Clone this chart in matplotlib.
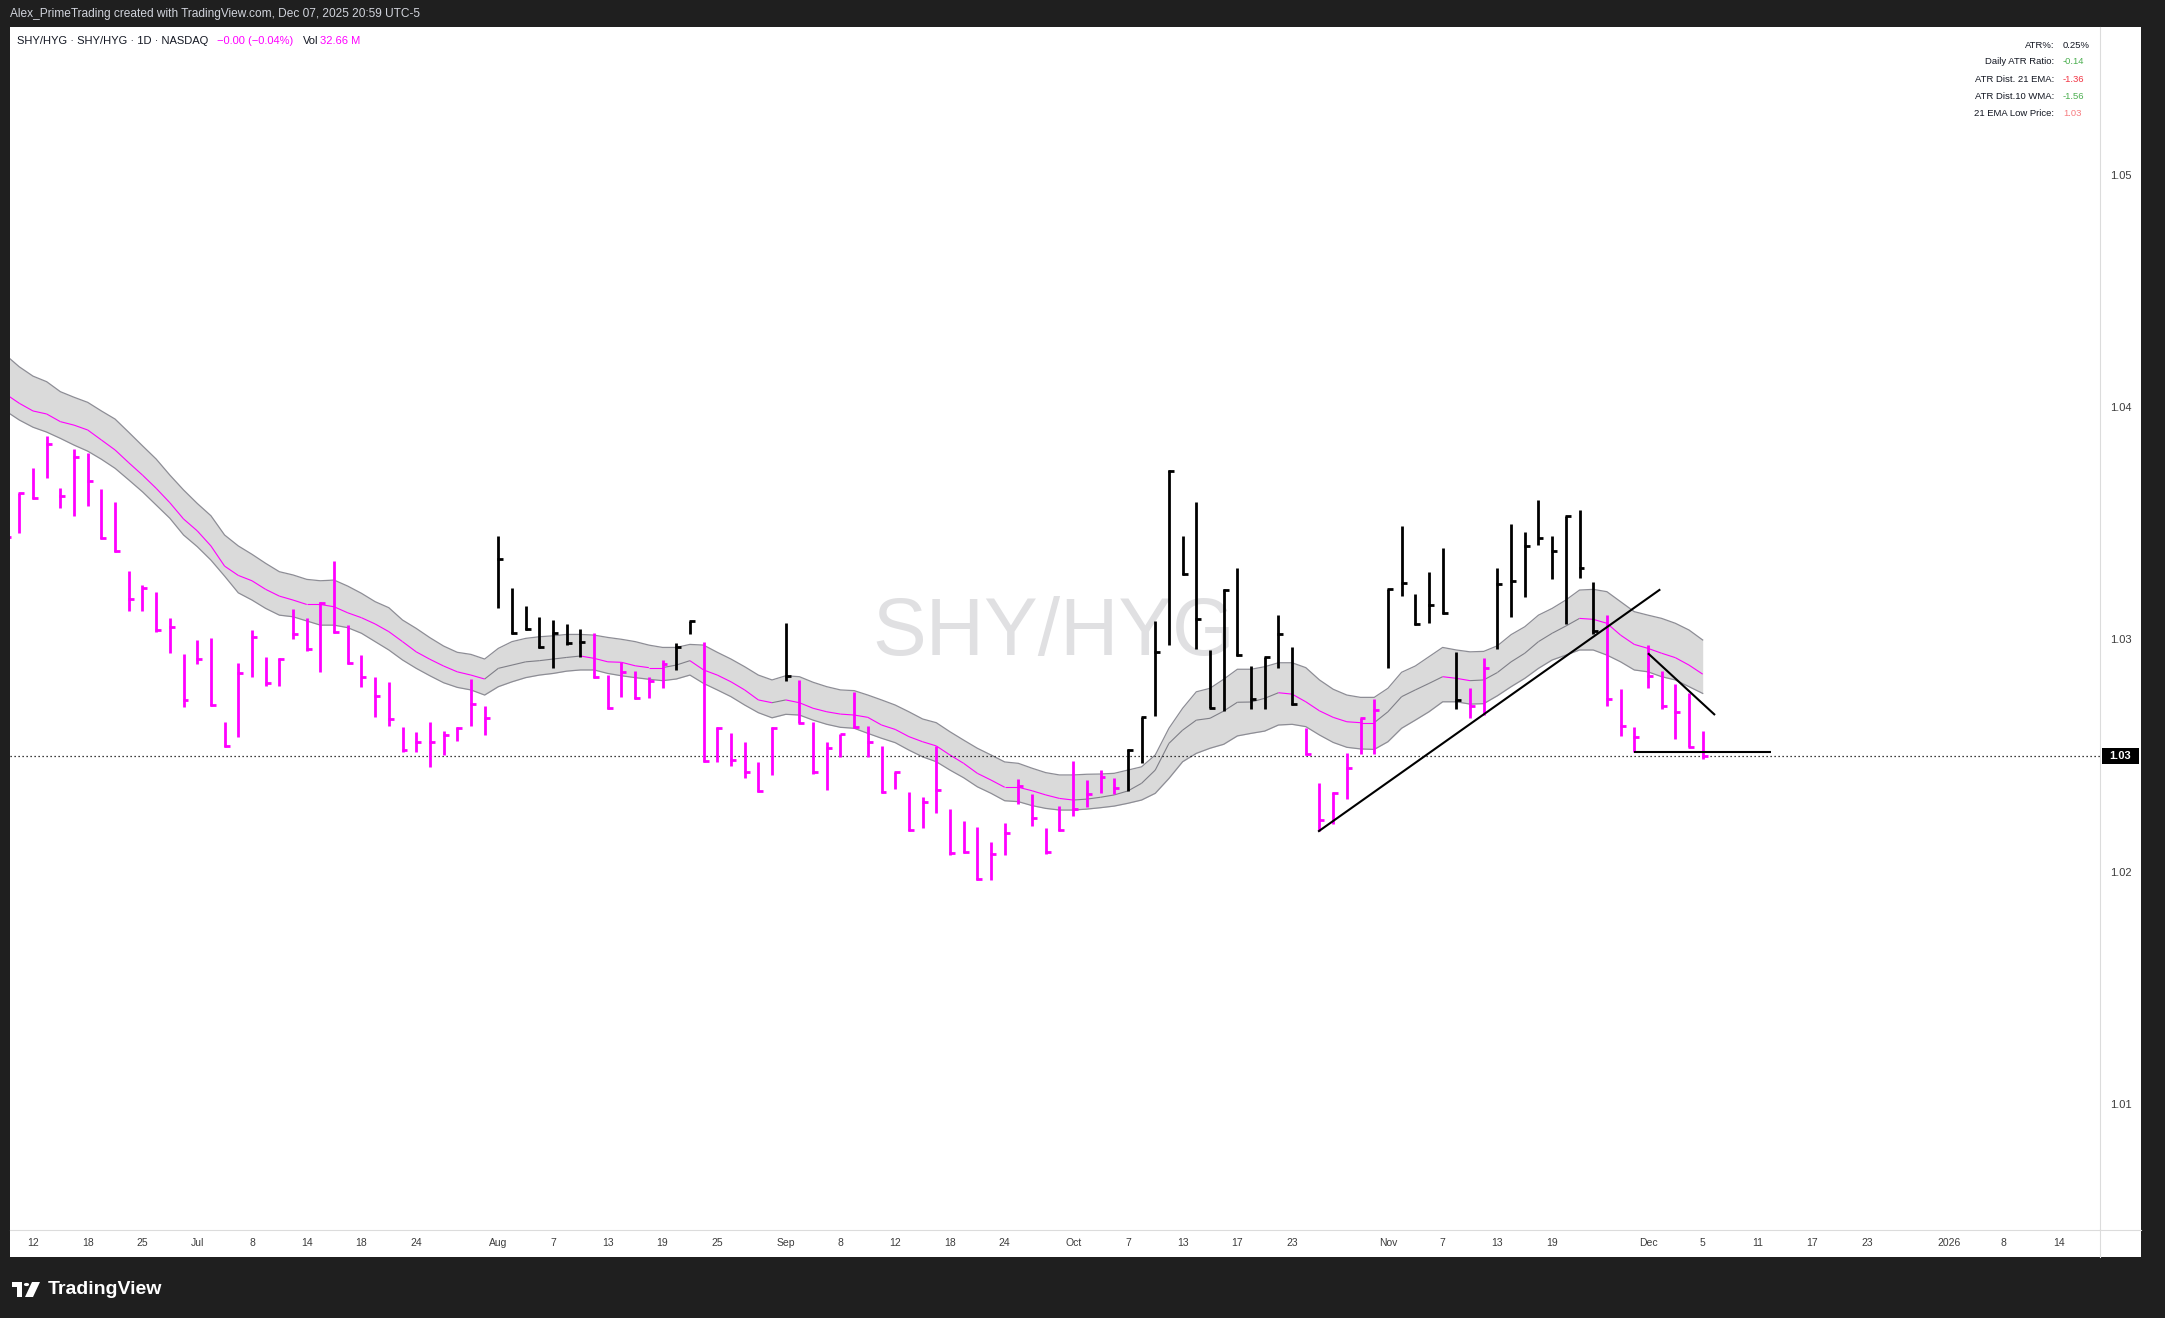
import numpy as np
import pandas as pd
import matplotlib
matplotlib.use('Agg')
import matplotlib.pyplot as plt
import matplotlib.transforms as mtransforms
from matplotlib.collections import LineCollection
from matplotlib.patches import Rectangle, Circle, Polygon

W, H = 2165, 1318

# trading calendar (first bar = Jun 10 2025, partly hidden at left edge)
first_day = '2025-06-10'
last_day = '2026-01-30'
holidays = ['2025-06-19', '2025-07-04', '2025-09-01', '2025-11-27',
            '2025-12-25', '2026-01-01', '2026-01-19']

# SHY/HYG daily HLC bars, Jun 10 .. Dec 05 2025
highs = [1.03834, 1.03986,
         1.04091, 1.04231, 1.04005, 1.04173, 1.04156, 1.04001, 1.03945, 1.03649, 1.03589, 1.03557,
         1.03447, 1.03292, 1.03352, 1.03360, 1.02998, 1.03254, 1.03395, 1.03277, 1.03273, 1.03484,
         1.03445, 1.03517, 1.03692, 1.03416, 1.03287, 1.03191, 1.03171, 1.02976, 1.02956, 1.02999,
         1.02961, 1.02976, 1.03183, 1.03068, 1.03801, 1.03574, 1.03500, 1.03452, 1.03438, 1.03419,
         1.03398, 1.03383, 1.03201, 1.03256, 1.03218, 1.03191, 1.03266, 1.03340, 1.03434, 1.03342,
         1.02976, 1.02950, 1.02914, 1.02825, 1.02976, 1.03424, 1.03180, 1.02998, 1.02914, 1.02947,
         1.03127, 1.02982, 1.02896, 1.02785, 1.02696, 1.02675, 1.02896, 1.02623, 1.02573, 1.02546,
         1.02484, 1.02563, 1.02752, 1.02689, 1.02544, 1.02637, 1.02831, 1.02749, 1.02792, 1.02759,
         1.02881, 1.03019, 1.03434, 1.04084, 1.03800, 1.03947, 1.03309, 1.03570, 1.03661, 1.03240,
         1.03277, 1.03459, 1.03320, 1.02972, 1.02735, 1.02696, 1.02864, 1.03015, 1.03097, 1.03571,
         1.03844, 1.03549, 1.03646, 1.03747, 1.03301, 1.03144, 1.03273, 1.03661, 1.03850, 1.03815,
         1.03955, 1.03800, 1.03886, 1.03911, 1.03600, 1.03458, 1.03141, 1.02976, 1.03330, 1.03218,
         1.03162, 1.03125, 1.02960]
lows = [1.03696, 1.03814,
        1.03958, 1.04048, 1.03919, 1.03887, 1.03930, 1.03785, 1.03729, 1.03478, 1.03478, 1.03385,
        1.03295, 1.03065, 1.03247, 1.03068, 1.02890, 1.02936, 1.03194, 1.03155, 1.03155, 1.03357,
        1.03306, 1.03213, 1.03383, 1.03247, 1.03151, 1.03022, 1.02983, 1.02871, 1.02871, 1.02806,
        1.02857, 1.02918, 1.02983, 1.02943, 1.03488, 1.03378, 1.03395, 1.03316, 1.03230, 1.03330,
        1.03277, 1.03187, 1.03055, 1.03108, 1.03097, 1.03101, 1.03144, 1.03223, 1.03376, 1.02828,
        1.02825, 1.02809, 1.02756, 1.02699, 1.02771, 1.03177, 1.02993, 1.02775, 1.02706, 1.02847,
        1.02972, 1.02847, 1.02694, 1.02709, 1.02531, 1.02541, 1.02606, 1.02426, 1.02434, 1.02319,
        1.02319, 1.02426, 1.02645, 1.02552, 1.02429, 1.02530, 1.02595, 1.02634, 1.02694, 1.02688,
        1.02703, 1.02824, 1.03025, 1.03330, 1.03632, 1.03313, 1.03058, 1.03047, 1.03283, 1.03056,
        1.03056, 1.03233, 1.03072, 1.02857, 1.02531, 1.02560, 1.02666, 1.02861, 1.02860, 1.03233,
        1.03541, 1.03416, 1.03426, 1.03464, 1.03053, 1.03015, 1.03029, 1.03312, 1.03452, 1.03538,
        1.03761, 1.03613, 1.03419, 1.03620, 1.03376, 1.03069, 1.02940, 1.02868, 1.03147, 1.03053,
        1.02924, 1.02890, 1.02838]
closes = [1.03795, 1.03986,
          1.03962, 1.04194, 1.03972, 1.04138, 1.04035, 1.03790, 1.03734, 1.03528, 1.03574, 1.03395,
          1.03409, 1.03094, 1.03269, 1.03071, 1.02896, 1.03208, 1.03366, 1.03168, 1.03269, 1.03376,
          1.03312, 1.03512, 1.03388, 1.03252, 1.03191, 1.03112, 1.03010, 1.02878, 1.02911, 1.02911,
          1.02942, 1.02972, 1.03076, 1.03016, 1.03702, 1.03381, 1.03398, 1.03323, 1.03381, 1.03340,
          1.03343, 1.03191, 1.03058, 1.03215, 1.03101, 1.03177, 1.03249, 1.03323, 1.03434, 1.02831,
          1.02974, 1.02835, 1.02782, 1.02702, 1.02974, 1.03198, 1.02996, 1.02785, 1.02886, 1.02947,
          1.02976, 1.02914, 1.02699, 1.02782, 1.02534, 1.02656, 1.02706, 1.02434, 1.02440, 1.02322,
          1.02431, 1.02520, 1.02723, 1.02584, 1.02440, 1.02534, 1.02624, 1.02688, 1.02761, 1.02713,
          1.02878, 1.03019, 1.03301, 1.04081, 1.03635, 1.03442, 1.03060, 1.03567, 1.03286, 1.03098,
          1.03277, 1.03378, 1.03075, 1.02860, 1.02577, 1.02694, 1.02802, 1.03015, 1.03050, 1.03571,
          1.03596, 1.03419, 1.03503, 1.03467, 1.03094, 1.03068, 1.03230, 1.03593, 1.03606, 1.03757,
          1.03791, 1.03735, 1.03886, 1.03662, 1.03391, 1.03097, 1.02983, 1.02933, 1.03197, 1.03069,
          1.03041, 1.02892, 1.02852]
# indicator state per bar (1 = bullish bar shown black)
bull_flags = [0]*36 + [1]*7 + [0]*6 + [1]*2 + [0]*6 + [1] + [0]*24 + [1]*13 + [0]*6 + [1]*6 + [0]*2 + [1]*8 + [0]*8

# 21 EMA and its ATR band
ema_upper = [1.04579, 1.04528,
             1.04488, 1.04464, 1.04421, 1.04397, 1.04375, 1.04338, 1.04303, 1.04246, 1.04188, 1.04131,
             1.04062, 1.03998, 1.03940, 1.03887, 1.03804, 1.03757, 1.03721, 1.03682, 1.03646, 1.03632,
             1.03613, 1.03607, 1.03610, 1.03584, 1.03553, 1.03517, 1.03491, 1.03438, 1.03402, 1.03362,
             1.03326, 1.03299, 1.03290, 1.03270, 1.03316, 1.03345, 1.03359, 1.03366, 1.03370, 1.03376,
             1.03376, 1.03373, 1.03363, 1.03355, 1.03345, 1.03330, 1.03320, 1.03320, 1.03333, 1.03330,
             1.03299, 1.03270, 1.03237, 1.03201, 1.03180, 1.03198, 1.03194, 1.03170, 1.03151, 1.03137,
             1.03134, 1.03115, 1.03094, 1.03072, 1.03043, 1.03012, 1.02996, 1.02957, 1.02921, 1.02886,
             1.02857, 1.02827, 1.02821, 1.02800, 1.02781, 1.02771, 1.02771, 1.02774, 1.02775, 1.02778,
             1.02792, 1.02806, 1.02857, 1.02972, 1.03058, 1.03129, 1.03144, 1.03183, 1.03226, 1.03226,
             1.03237, 1.03254, 1.03254, 1.03233, 1.03180, 1.03140, 1.03115, 1.03105, 1.03105, 1.03144,
             1.03213, 1.03240, 1.03280, 1.03320, 1.03309, 1.03301, 1.03303, 1.03327, 1.03375, 1.03409,
             1.03459, 1.03488, 1.03524, 1.03567, 1.03570, 1.03560, 1.03517, 1.03474, 1.03459, 1.03445,
             1.03424, 1.03395, 1.03352]
ema_mid = [1.04411, 1.04371,
           1.04338, 1.04325, 1.04292, 1.04277, 1.04256, 1.04213, 1.04170, 1.04115, 1.04062, 1.04005,
           1.03943, 1.03873, 1.03822, 1.03757, 1.03670, 1.03630, 1.03607, 1.03570, 1.03541, 1.03524,
           1.03505, 1.03505, 1.03495, 1.03469, 1.03448, 1.03421, 1.03388, 1.03345, 1.03301, 1.03269,
           1.03240, 1.03215, 1.03201, 1.03184, 1.03230, 1.03244, 1.03258, 1.03263, 1.03270, 1.03277,
           1.03283, 1.03273, 1.03258, 1.03256, 1.03241, 1.03233, 1.03233, 1.03244, 1.03263, 1.03223,
           1.03201, 1.03172, 1.03137, 1.03094, 1.03082, 1.03094, 1.03082, 1.03058, 1.03043, 1.03033,
           1.03029, 1.03019, 1.02986, 1.02967, 1.02936, 1.02914, 1.02896, 1.02857, 1.02821, 1.02778,
           1.02749, 1.02718, 1.02718, 1.02703, 1.02685, 1.02670, 1.02663, 1.02667, 1.02675, 1.02685,
           1.02702, 1.02735, 1.02792, 1.02907, 1.02964, 1.03007, 1.03015, 1.03046, 1.03084, 1.03085,
           1.03101, 1.03125, 1.03119, 1.03086, 1.03047, 1.03019, 1.03000, 1.02996, 1.02996, 1.03043,
           1.03108, 1.03137, 1.03165, 1.03194, 1.03187, 1.03177, 1.03180, 1.03212, 1.03258, 1.03295,
           1.03345, 1.03381, 1.03412, 1.03445, 1.03441, 1.03424, 1.03373, 1.03333, 1.03316, 1.03295,
           1.03276, 1.03244, 1.03205]
ema_lower = [1.04338, 1.04299,
             1.04268, 1.04247, 1.04220, 1.04191, 1.04165, 1.04130, 1.04091, 1.04041, 1.03990, 1.03933,
             1.03876, 1.03804, 1.03754, 1.03696, 1.03627, 1.03555, 1.03524, 1.03488, 1.03459, 1.03452,
             1.03434, 1.03416, 1.03416, 1.03405, 1.03381, 1.03345, 1.03309, 1.03266, 1.03230, 1.03198,
             1.03168, 1.03148, 1.03137, 1.03115, 1.03151, 1.03172, 1.03190, 1.03201, 1.03208, 1.03218,
             1.03223, 1.03223, 1.03208, 1.03198, 1.03190, 1.03183, 1.03177, 1.03184, 1.03201, 1.03165,
             1.03137, 1.03108, 1.03072, 1.03039, 1.03017, 1.03032, 1.03029, 1.03007, 1.02989, 1.02976,
             1.02972, 1.02950, 1.02929, 1.02910, 1.02878, 1.02849, 1.02828, 1.02792, 1.02759, 1.02720,
             1.02692, 1.02660, 1.02656, 1.02639, 1.02627, 1.02620, 1.02620, 1.02624, 1.02630, 1.02637,
             1.02649, 1.02663, 1.02692, 1.02756, 1.02828, 1.02864, 1.02886, 1.02903, 1.02939, 1.02950,
             1.02960, 1.02986, 1.02989, 1.02979, 1.02943, 1.02911, 1.02890, 1.02883, 1.02881, 1.02914,
             1.02972, 1.03007, 1.03043, 1.03086, 1.03086, 1.03076, 1.03078, 1.03112, 1.03151, 1.03187,
             1.03230, 1.03266, 1.03287, 1.03309, 1.03309, 1.03287, 1.03258, 1.03223, 1.03215, 1.03194,
             1.03180, 1.03151, 1.03122]

# hand-drawn trend lines: (bar index from Jun 10, price) pairs
trend_lines = [[(95.9, 1.02527), (120.9, 1.03570)],
               [(120.0, 1.03295), (124.9, 1.03029)],
               [(119.0, 1.02871), (129.0, 1.02871)]]

tick_dates = ['2025-06-12', '2025-06-18', '2025-06-25', '2025-07-01', '2025-07-08', '2025-07-14',
              '2025-07-18', '2025-07-24', '2025-08-01', '2025-08-07', '2025-08-13', '2025-08-19',
              '2025-08-25', '2025-09-02', '2025-09-08', '2025-09-12', '2025-09-18', '2025-09-24',
              '2025-10-01', '2025-10-07', '2025-10-13', '2025-10-17', '2025-10-23', '2025-11-03',
              '2025-11-07', '2025-11-13', '2025-11-19', '2025-12-01', '2025-12-05', '2025-12-11',
              '2025-12-17', '2025-12-23', '2026-01-02', '2026-01-08', '2026-01-14']
tick_labels = ['12', '18', '25', 'Jul', '8', '14', '18', '24', 'Aug', '7', '13', '19', '25', 'Sep',
               '8', '12', '18', '24', 'Oct', '7', '13', '17', '23', 'Nov', '7', '13', '19', 'Dec',
               '5', '11', '17', '23', '2026', '8', '14']
price_ticks = [1.0535, 1.0435, 1.0335, 1.0235, 1.0135]
price_tick_labels = ['1.05', '1.04', '1.03', '1.02', '1.01']

table_labels = ['ATR%:', 'Daily ATR Ratio:', 'ATR Dist. 21 EMA:', 'ATR Dist.10 WMA:', '21 EMA Low Price:']
table_values = ['0.25%', '-0.14', '-1.36', '-1.56', '1.03']
table_colors = ['#131722', '#4caf50', '#f23645', '#4caf50', '#f77c80']
volume_m = 32.66

MAGENTA = '#ff00ff'
plt.rcParams['font.family'] = ['Liberation Sans', 'DejaVu Sans']

fig = plt.figure(figsize=(W / 100, H / 100), dpi=100, facecolor='#1f1f1f')


def px_box(x0, y0, x1, y1):
    return [x0 / W, 1 - y1 / H, (x1 - x0) / W, (y1 - y0) / H]


def clean(a):
    a.set_facecolor('white')
    a.set_xticks([])
    a.set_yticks([])
    for s in a.spines.values():
        s.set_visible(False)


ax = fig.add_axes(px_box(10, 27, 2100, 1230))
ax_p = fig.add_axes(px_box(2100, 27, 2141, 1230))
ax_x = fig.add_axes(px_box(10, 1230, 2100, 1257))
ax_c = fig.add_axes(px_box(2100, 1230, 2141, 1257))
for a in (ax, ax_p, ax_x, ax_c):
    clean(a)
for a in (ax_p, ax_c):
    a.spines['left'].set_visible(True)
    a.spines['left'].set_color('#dcdcdc')
for a in (ax_x, ax_c):
    a.spines['top'].set_visible(True)
    a.spines['top'].set_color('#dcdcdc')

xlim = (0.32, 153.03)
ylim = (1.00812, 1.05991)
ax.set_xlim(*xlim)
ax.set_ylim(*ylim)
ax_p.set_ylim(*ylim)
ax_p.set_xlim(0, 1)
ax_x.set_xlim(*xlim)
ax_x.set_ylim(0, 1)

xs = np.arange(len(closes))

# EMA cloud
ax.fill_between(xs, ema_lower, ema_upper, color='#dadada', lw=0, zorder=1)
ax.plot(xs, ema_upper, color='#8d8d95', lw=0.9, zorder=2)
ax.plot(xs, ema_lower, color='#8d8d95', lw=0.9, zorder=2)
mid = np.array(ema_mid)
mid_segs = [[(xs[k], mid[k]), (xs[k + 1], mid[k + 1])] for k in range(len(mid) - 1)]
mid_cols = ['#7f7f87' if mid[k + 1] > mid[k] else MAGENTA for k in range(len(mid) - 1)]
ax.add_collection(LineCollection(mid_segs, colors=mid_cols, linewidths=0.8, zorder=2))

# HLC bars
bar_cols = ['black' if f else MAGENTA for f in bull_flags]
stems = [[(x, l), (x, h)] for x, l, h in zip(xs, lows, highs)]
ticks = [[(x - 0.07, c), (x + 0.36, c)] for x, c in zip(xs, closes)]
ax.add_collection(LineCollection(stems + ticks, colors=bar_cols + bar_cols,
                                 linewidths=2.0, capstyle='butt', zorder=3))

# last price line
ax.axhline(closes[-1], color='black', lw=0.9, ls=(0, (1, 2.2)), zorder=2)

# trend lines
for (x0, y0), (x1, y1) in trend_lines:
    ax.plot([x0, x1], [y0, y1], color='black', lw=1.5, zorder=4, solid_capstyle='butt')

# watermark
ax.text(1054 / W, 1 - 655 / H, 'SHY/HYG', transform=fig.transFigure, ha='center', va='baseline',
        fontsize=58, color='#e0e0e2', zorder=0.5)

# price axis
tp = mtransforms.blended_transform_factory(ax_p.transAxes, ax_p.transData)
for v, lab in zip(price_ticks, price_tick_labels):
    ax_p.text(0.52, v, lab, transform=tp, ha='center', va='center', fontsize=8, color='#3c3c3c')
ax_p.add_patch(Rectangle((0.05, closes[-1] - 0.00033), 0.9, 0.00066, transform=tp,
                         facecolor='black', edgecolor='none'))
ax_p.text(0.5, closes[-1], '%.2f' % closes[-1], transform=tp, ha='center', va='center',
          fontsize=8, color='white', fontweight='bold')

# date axis
cal = pd.bdate_range(first_day, last_day, freq='C', holidays=holidays)
cal_pos = {d: k for k, d in enumerate(cal)}
tx = mtransforms.blended_transform_factory(ax_x.transData, ax_x.transAxes)
for d, lab in zip(tick_dates, tick_labels):
    ax_x.text(cal_pos[pd.Timestamp(d)], 0.52, lab, transform=tx, ha='center', va='center',
              fontsize=7.5, color='#3c3c3c')

# header and legend
fig.text(10 / W, 1 - 14 / H, 'Alex_PrimeTrading created with TradingView.com, Dec 07, 2025 20:59 UTC-5',
         color='#d1d4dc', fontsize=8.6, va='center')
chg = closes[-1] - closes[-2]
pct = chg / closes[-2] * 100
fig.text(17 / W, 1 - 41 / H, 'SHY/HYG · SHY/HYG · 1D · NASDAQ', color='#131722', fontsize=8, va='center')
fig.text(217 / W, 1 - 41 / H, '%.2f (%.2f%%)' % (chg, pct) if chg >= 0 else
         '\u2212%.2f (\u2212%.2f%%)' % (-chg, -pct), color=MAGENTA, fontsize=8, va='center')
fig.text(303 / W, 1 - 41 / H, 'Vol', color='#131722', fontsize=8, va='center')
fig.text(320 / W, 1 - 41 / H, '%.2f M' % volume_m, color=MAGENTA, fontsize=8, va='center')

# info table
row_y = [45, 62, 79, 96.5, 113]
for yy, lab, val, col in zip(row_y, table_labels, table_values, table_colors):
    fig.text(2054 / W, 1 - yy / H, lab, color='#131722', fontsize=6.8, ha='right', va='center')
    fig.text(2063 / W, 1 - yy / H, val, color=col, fontsize=6.8, ha='left', va='center')

# TradingView logo
def fx(x):
    return x / W


def fy(y):
    return 1 - y / H


logo = [Rectangle((fx(12), fy(1287)), fx(22) - fx(12), fy(1282) - fy(1287)),
        Rectangle((fx(17), fy(1297)), fx(22) - fx(17), fy(1282) - fy(1297)),
        Polygon([(fx(32), fy(1282)), (fx(40), fy(1282)), (fx(33), fy(1297)), (fx(25), fy(1297))])]
for p in logo:
    p.set_transform(fig.transFigure)
    p.set_facecolor('white')
    p.set_edgecolor('none')
    fig.patches.append(p)
dot = Circle((fx(26.5), fy(1284.5)), 2.6 / W, transform=fig.transFigure, facecolor='white', edgecolor='none')
fig.patches.append(dot)
fig.text(fx(48), fy(1289), 'TradingView', color='white', fontsize=14, fontweight='bold', va='center')

fig.savefig('out.png', dpi=100, facecolor=fig.get_facecolor())
